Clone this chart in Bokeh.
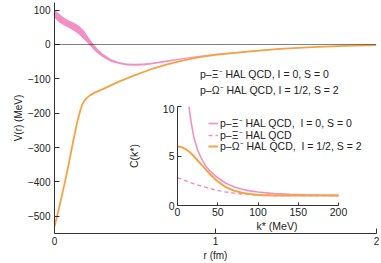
from bokeh.plotting import figure
from bokeh.models import Range1d, FixedTicker, Span, Legend, LegendItem, GridBox
from bokeh.embed import file_html
from bokeh.resources import INLINE

# ---- Potentials V(r) ----
r_xi = [0.00, 0.03, 0.06, 0.09, 0.12, 0.15, 0.18, 0.21, 0.24, 0.27, 0.30, 0.35, 0.40,
        0.45, 0.50, 0.55, 0.60, 0.70, 0.80, 0.90, 1.00, 1.20, 1.40, 1.60, 1.80, 2.00]
v_xi_upper = [101, 89, 78, 70, 63, 55, 42, 22, 2, -14, -27, -42, -51,
              -55, -56, -55, -53, -46, -39, -33, -27, -19, -12, -7, -3.5, -1.5]
v_xi_lower = [78, 64, 55, 48, 40, 30, 16, 2, -14, -27, -37, -50, -57,
              -61, -62, -61, -58, -51, -43, -36, -30, -22, -14, -8, -4.5, -2.5]

r_omega = [0.00, 0.02, 0.04, 0.06, 0.08, 0.10, 0.12, 0.14, 0.16, 0.17, 0.18, 0.19, 0.20,
           0.22, 0.25, 0.30, 0.35, 0.40, 0.50, 0.60, 0.70, 0.80, 0.90, 1.00, 1.20,
           1.40, 1.60, 1.80, 2.00]
v_omega = [-530, -492, -452, -410, -367, -320, -272, -228, -192, -178, -168, -161, -156,
           -148, -140, -130, -119, -108, -89, -72, -58, -46, -37, -30, -21,
           -13, -7.5, -4, -2]

# ---- Correlation functions C(k*) ----
k_xi = [13, 15, 17, 20, 25, 30, 35, 40, 50, 60, 70, 80, 90, 100, 120, 140, 160, 180, 200]
c_xi = [10.8, 9.5, 8.4, 7.0, 5.6, 4.7, 4.0, 3.5, 2.8, 2.25, 1.9, 1.65, 1.48, 1.36,
        1.2, 1.12, 1.07, 1.04, 1.02]

k_xi_avg = [0, 10, 20, 30, 40, 50, 60, 70, 80, 90, 100, 120, 150, 200]
c_xi_avg = [2.8, 2.5, 2.2, 1.95, 1.72, 1.52, 1.37, 1.25, 1.16, 1.1, 1.06, 1.02, 1.0, 1.0]

k_omega = [0, 5, 10, 15, 20, 25, 30, 35, 40, 45, 50, 60, 70, 80, 90, 100, 120, 150, 200]
c_omega = [5.95, 5.9, 5.7, 5.4, 5.0, 4.55, 4.1, 3.65, 3.2, 2.8, 2.42, 1.85, 1.5, 1.28,
           1.15, 1.07, 1.02, 1.0, 1.0]

# ---- Ticks and labels ----
r_ticks = [0, 1, 2]
v_ticks = [-500, -400, -300, -200, -100, 0, 100]
v_tick_labels = ["\u2212500", "\u2212400", "\u2212300", "\u2212200", "\u2212100", "0", "100"]
k_ticks = [0, 50, 100, 150, 200]
c_ticks = [0, 5, 10]

label_xi = "p\u2013\u039e\u207b HAL QCD, I = 0, S = 0"
label_omega = "p\u2013\u03a9\u207b HAL QCD, I = 1/2, S = 2"
inset_label_xi = "p\u2013\u039e\u207b HAL QCD,  I = 0, S = 0"
inset_label_xi_avg = "p\u2013\u039e\u207b HAL QCD"
inset_label_omega = "p\u2013\u03a9\u207b HAL QCD,  I = 1/2, S = 2"

PINK = "#f290c6"
ORANGE = "#f5a340"
AXIS = "#333333"
TEXT = "#222222"
FONT = "Liberation Sans"


def style_axis(ax, size, tick_in, label_standoff, title_standoff):
    ax.axis_line_color = AXIS
    ax.axis_line_width = 1
    ax.major_tick_line_color = AXIS
    ax.major_tick_in = tick_in
    ax.major_tick_out = 0
    ax.minor_tick_line_color = None
    ax.major_label_text_font = FONT
    ax.major_label_text_font_size = size
    ax.major_label_text_color = TEXT
    ax.major_label_text_line_height = 1.0
    ax.major_label_standoff = label_standoff
    ax.axis_label_text_font = FONT
    ax.axis_label_text_font_size = size
    ax.axis_label_text_font_style = "normal"
    ax.axis_label_text_color = TEXT
    ax.axis_label_text_line_height = 1.0
    ax.axis_label_standoff = title_standoff


def legend_row(renderer, label, x, y, glyph_width, standoff):
    # one legend entry, anchored at its lower-left corner (screen units from the frame)
    return Legend(items=[LegendItem(label=label, renderers=[renderer])],
                  location=(x, y), orientation="vertical",
                  background_fill_alpha=0, border_line_color=None,
                  padding=0, margin=0, spacing=0,
                  glyph_width=glyph_width, glyph_height=16, label_height=16,
                  label_standoff=standoff,
                  label_text_font=FONT, label_text_font_size="10.5px",
                  label_text_line_height=1.0, label_text_color=TEXT)


# ---- Main panel: potentials ----
p = figure(width=381, height=263, x_range=Range1d(0, 2), y_range=Range1d(-550, 122.2),
           output_backend="svg", toolbar_location=None,
           min_border_left=54, min_border_right=5, min_border_top=2, min_border_bottom=30,
           outline_line_color=None)
p.grid.visible = False

p.xaxis.ticker = FixedTicker(ticks=r_ticks)
p.yaxis.ticker = FixedTicker(ticks=v_ticks)
p.yaxis.major_label_overrides = dict(zip(v_ticks, v_tick_labels))
p.xaxis.axis_label = "r (fm)"
p.yaxis.axis_label = "V(r) (MeV)"
style_axis(p.xaxis[0], "10px", 5, 3, 2)
style_axis(p.yaxis[0], "10px", 5, 4, 1)

p.add_layout(Span(location=0, dimension="width", line_color="#000000",
                  line_dash="1 1", line_width=1))

p.varea(x=r_xi, y1=v_xi_lower, y2=v_xi_upper, fill_color=PINK, fill_alpha=1.0)
p.line(x=r_omega, y=v_omega, line_color=ORANGE, line_width=1.8)

# legend keys (no data, only the swatches)
key_xi = p.line(x=[], y=[], line_color=PINK, line_width=2.2)
key_omega = p.line(x=[], y=[], line_color=ORANGE, line_width=3)
p.add_layout(legend_row(key_xi, label_xi, 129, 151, 14, 3))
p.add_layout(legend_row(key_omega, label_omega, 129, 135, 14, 3))

# ---- Inset: correlation functions ----
# The inset shares the grid cell with the main panel, so its borders follow the
# main panel's; the k* range is widened to the right so the 0-200 axis keeps
# its length while the legend has room.
inset = figure(width=258, height=131, x_range=Range1d(0, 247.2), y_range=Range1d(0, 10),
               output_backend="svg", toolbar_location=None,
               min_border_left=54, min_border_right=5, min_border_top=2, min_border_bottom=30,
               background_fill_color=None, border_fill_color=None, outline_line_color=None,
               margin=(104, 0, 0, 123))
inset.grid.visible = False
inset.xaxis.ticker = FixedTicker(ticks=k_ticks)
inset.xaxis.bounds = (0, 200)
inset.yaxis.ticker = FixedTicker(ticks=c_ticks)
inset.xaxis.axis_label = "k* (MeV)"
inset.yaxis.axis_label = "C(k*)"
style_axis(inset.xaxis[0], "10.5px", 3, 2, 1)
style_axis(inset.yaxis[0], "10.5px", 4, 3, 20)

r_avg = inset.line(x=k_xi_avg, y=c_xi_avg, line_color=PINK, line_width=1.5, line_dash="4 3")
r_xi_c = inset.line(x=k_xi, y=c_xi, line_color=PINK, line_width=1.6)
r_om_c = inset.line(x=k_omega, y=c_omega, line_color=ORANGE, line_width=2)

inset.add_layout(legend_row(r_xi_c, inset_label_xi, 31, 74, 10, 2))
inset.add_layout(legend_row(r_avg, inset_label_xi_avg, 31, 62, 10, 2))
inset.add_layout(legend_row(r_om_c, inset_label_omega, 31, 51, 10, 2))

# overlay the inset on top of the main panel
layout = GridBox(children=[(p, 0, 0), (inset, 0, 0)])

open("out.html", "w").write(file_html(layout, INLINE))
